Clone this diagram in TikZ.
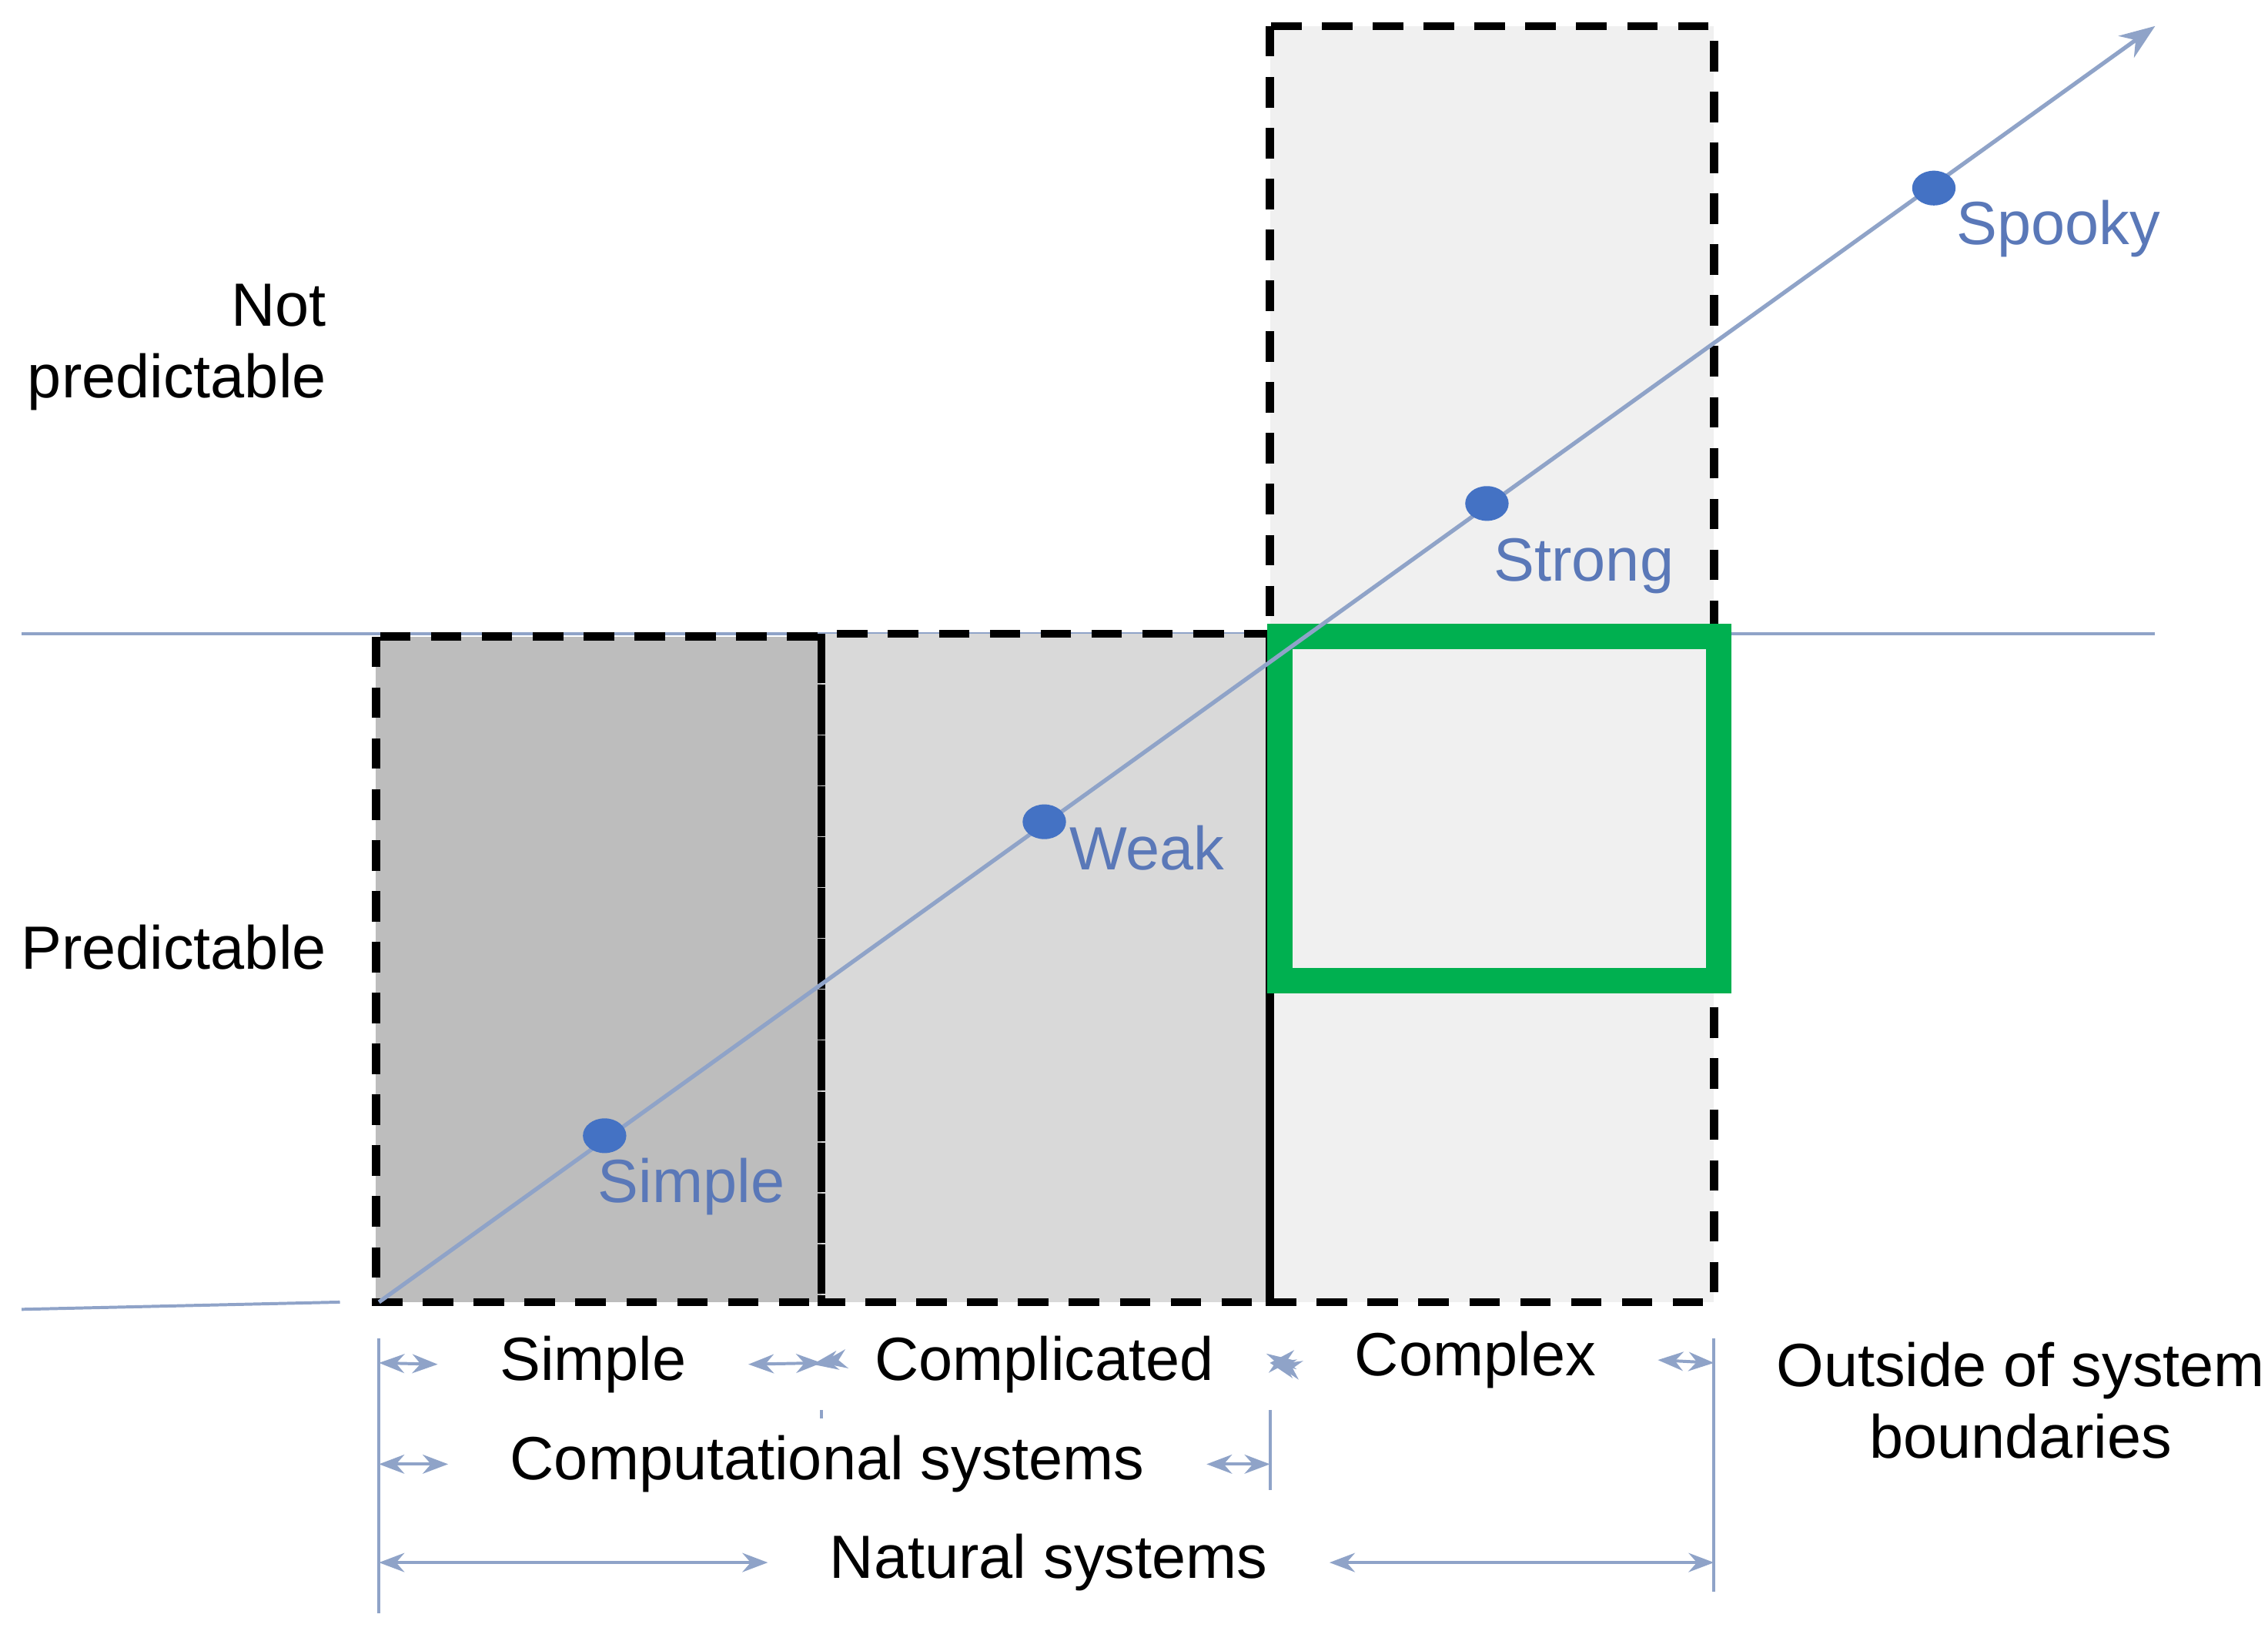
\documentclass[tikz,border=0pt]{standalone}
\usepackage{fontspec}
\setmainfont{Liberation Sans}
\usetikzlibrary{arrows.meta}
\definecolor{axisblue}{HTML}{8FA3C8}
\definecolor{dotblue}{HTML}{4472C4}
\definecolor{labblue}{HTML}{5A78B8}
\definecolor{boxgreen}{HTML}{00B050}
\tikzset{
  zone/.style={densely dashed, line width=1.6pt, dash pattern=on 6pt off 4pt},
  dot/.style={ellipse, fill=dotblue, minimum width=0.3cm, minimum height=0.24cm, inner sep=0pt},
  blab/.style={text=labblue, font=\fontsize{12}{14}\selectfont},
  klab/.style={font=\fontsize{12}{14}\selectfont, align=center},
  dim/.style={axisblue, line width=0.6pt, {Stealth[length=5pt]}-{Stealth[length=5pt]}},
  tick/.style={axisblue, line width=0.6pt}
}
\usetikzlibrary{shapes.geometric}
\begin{document}
\begin{tikzpicture}[x=0.01cm, y=-0.01cm]
	\useasboundingbox (0,0) rectangle (1568,1134);

	\draw [axisblue, line width=0.6pt] (15,438) -- (1490,438);
	\draw [axisblue, line width=0.6pt] (15,905) -- (235,900);

	\fill [black!26] (260,440) rectangle (568,900);
	\fill [black!15] (568,438) rectangle (878,900);
	\fill [black!6] (878,18) rectangle (1185,900);
	\draw [zone] (260,440) rectangle (568,900);
	\draw [zone] (568,438) rectangle (878,900);
	\draw [zone] (878,18) rectangle (1185,900);

	\draw [boxgreen, line width=5pt] (885,440) rectangle (1188,678);

	\coordinate (o) at (262,900);
	\coordinate (e) at (1490,18);
	\draw [axisblue, line width=0.8pt, -{Stealth[length=7pt]}] (o) -- (e);

	\node [dot] (d1) at (418,785) {};
	\node [dot] (d2) at (722,568) {};
	\node [dot] (d3) at (1028,348) {};
	\node [dot] (d4) at (1337,130) {};
	\node [blab] (l1) at (478,820) {Simple};
	\node [blab] (l2) at (793,586) {Weak};
	\node [blab] (l3) at (1095,391) {Strong};
	\node [blab] (l4) at (1423,158) {Spooky};

	\node [klab, align=right, anchor=east] (np) at (238,240) {Not\\predictable};
	\node [klab, anchor=east] (pr) at (238,655) {Predictable};

	% dimension lines
	\draw [tick] (262,925) -- (262,1115);
	\draw [tick] (568,925) -- (568,985);
	\draw [tick] (878,925) -- (878,1030);
	\draw [tick] (1185,925) -- (1185,1100);

	\node [klab, fill=white, inner xsep=12pt] (s1) at (410,943) {Simple};
	\node [klab, fill=white, inner xsep=12pt] (s2) at (722,943) {Complicated};
	\node [klab, fill=white, inner xsep=12pt] (s3) at (1020,940) {Complex};
	\node [klab, fill=white, inner xsep=12pt] (s4) at (572,1012) {Computational systems};
	\node [klab, fill=white, inner xsep=12pt] (s5) at (725,1080) {Natural systems};
	\node [klab] (s6) at (1397,968) {Outside of system\\boundaries};

	\begin{scope}[on background layer/.style={}]
	\draw [dim] (262,942) -- (s1.west);
	\draw [dim] (s1.east) -- (568,942);
	\draw [dim] (568,942) -- (s2.west);
	\draw [dim] (s2.east) -- (878,942);
	\draw [dim] (878,942) -- (s3.west);
	\draw [dim] (s3.east) -- (1185,942);
	\draw [dim] (262,1012) -- (s4.west);
	\draw [dim] (s4.east) -- (878,1012);
	\draw [dim] (262,1080) -- (s5.west);
	\draw [dim] (s5.east) -- (1185,1080);
	\end{scope}
\end{tikzpicture}
\end{document}
